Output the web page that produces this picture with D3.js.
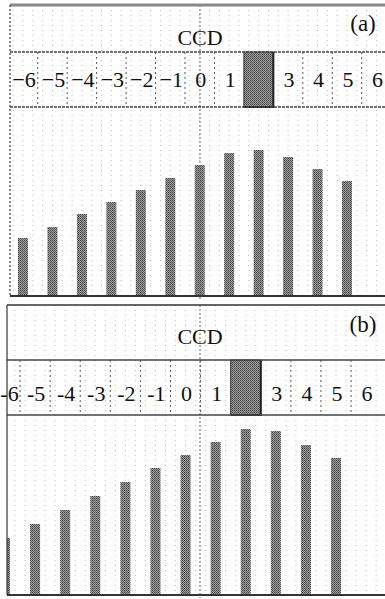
<!DOCTYPE html>
<html><head><meta charset="utf-8">
<script src="https://cdn.jsdelivr.net/npm/d3@7"></script>
<style>
html,body{margin:0;padding:0;background:#fff;}
svg{display:block;}
text{font-family:"Liberation Serif","Times New Roman",serif;fill:#111;}
</style></head>
<body>
<script>
// ---- data ----
const positions = [-6,-5,-4,-3,-2,-1,0,1,2,3,4,5];
const labelsA = ["−6","−5","−4","−3","−2","−1","0","1","2","3","4","5","6"];
const labelsB = ["-6","-5","-4","-3","-2","-1","0","1","2","3","4","5","6"];
const labelPos = [-6,-5,-4,-3,-2,-1,0,1,2,3,4,5,6];
const valuesA = [58,69,82,94,106,118,131,143,146,139,127,115];
const valuesB = [57,71,85,99,113,127,140,153,166,164,150,137];
const markedPos = 2;

const W = 385, H = 599;
const svg = d3.select("body").append("svg").attr("width",W).attr("height",H);
const defs = svg.append("defs");
const pat = defs.append("pattern").attr("id","ht").attr("width",2).attr("height",2).attr("patternUnits","userSpaceOnUse");
pat.append("rect").attr("width",2).attr("height",2).attr("fill","#a0a0a0");
pat.append("rect").attr("width",1).attr("height",1).attr("fill","#404040");
pat.append("rect").attr("x",1).attr("y",1).attr("width",1).attr("height",1).attr("fill","#606060");

function panel(cfg){
  const g = svg.append("g");
  const x = d3.scaleLinear().domain([-6,5]).range(cfg.xr);
  const step = x(1)-x(0);
  const y = d3.scaleLinear().domain([0,cfg.ymax]).range([cfg.base,cfg.bandB]);
  const clipId = "clip"+cfg.name;
  defs.append("clipPath").attr("id",clipId).append("rect")
    .attr("x",cfg.left).attr("y",cfg.top).attr("width",W-cfg.left).attr("height",cfg.base-cfg.top);
  const inner = g.append("g").attr("clip-path",`url(#${clipId})`);
  // faint dotted grid
  const gridX = d3.range(x(-6.5)+step/6, W, step/3);
  inner.selectAll("line.grid").data(gridX).join("line").attr("class","grid")
    .attr("x1",d=>d).attr("x2",d=>d).attr("y1",cfg.top).attr("y2",cfg.base)
    .attr("stroke","#bdbdbd").attr("stroke-width",1).attr("stroke-dasharray","1,4");
  // band separators
  const seps = d3.range(-5.5,6,1).filter(v=>Math.abs(v-markedPos)>0.6);
  inner.selectAll("line.sep").data(seps).join("line").attr("class","sep")
    .attr("x1",d=>x(d)).attr("x2",d=>x(d)).attr("y1",cfg.bandT).attr("y2",cfg.bandB)
    .attr("stroke","#555").attr("stroke-width",1).attr("stroke-dasharray","2,3");
  // center vertical dashed line
  g.append("line").attr("x1",cfg.cx).attr("x2",cfg.cx).attr("y1",cfg.top).attr("y2",cfg.base+3)
    .attr("stroke","#666").attr("stroke-width",1).attr("stroke-dasharray","2,2");
  // bars
  inner.selectAll("rect.bar").data(positions).join("rect").attr("class","bar")
    .attr("x",d=>x(d)-5).attr("width",10)
    .attr("y",(d,i)=>y(cfg.values[i])).attr("height",(d,i)=>cfg.base-y(cfg.values[i]))
    .attr("fill","url(#ht)");
  // marked box in band
  g.append("rect").attr("x",x(markedPos-0.5)).attr("width",step)
    .attr("y",cfg.bandT).attr("height",cfg.bandB-cfg.bandT)
    .attr("fill","url(#ht)").attr("stroke","#333").attr("stroke-width",1);
  g.append("path")
    .attr("d",`M${x(markedPos-0.5)},${cfg.bandB}H${x(markedPos+0.5)}V${cfg.bandT}`)
    .attr("fill","none").attr("stroke","#222").attr("stroke-width",2);
  // band lines
  [cfg.bandT,cfg.bandB].forEach(v=>{
    g.append("line").attr("x1",cfg.left).attr("x2",W).attr("y1",v).attr("y2",v)
      .attr("stroke","#444").attr("stroke-width",1.6).attr("stroke-dasharray",cfg.bandDash);
  });
  // labels
  g.selectAll("text.lab").data(labelPos.filter(p=>p!==markedPos)).join("text").attr("class","lab")
    .attr("x",d=>Math.max(x(d)+cfg.labDx, 9.5))
    .attr("y",cfg.labY).attr("text-anchor","middle")
    .attr("font-size",cfg.labFs).text(d=>cfg.labels[labelPos.indexOf(d)]);
  g.append("text").attr("x",cfg.cx).attr("y",cfg.ccdY).attr("text-anchor","middle")
    .attr("font-size",cfg.ccdFs).text("CCD");
  g.append("text").attr("x",363).attr("y",cfg.tagY).attr("text-anchor","middle")
    .attr("font-size",23).text(cfg.tag);
  // frame
  g.append("line").attr("x1",cfg.left).attr("x2",W).attr("y1",cfg.top).attr("y2",cfg.top)
    .attr("stroke",cfg.topColor).attr("stroke-width",cfg.topW);
  g.append("line").attr("x1",cfg.left).attr("x2",cfg.left).attr("y1",cfg.top).attr("y2",cfg.base)
    .attr("stroke","#333").attr("stroke-width",1.2).attr("stroke-dasharray",cfg.leftDash);
  g.append("line").attr("x1",cfg.left).attr("x2",W).attr("y1",cfg.base).attr("y2",cfg.base)
    .attr("stroke","#333").attr("stroke-width",2);
}

panel({name:"a", xr:[23,347], left:10, top:5, base:296, bandT:52, bandB:107, ymax:189,
  values:valuesA, labels:labelsA, cx:200, labY:87, labFs:22, labDx:1, ccdY:45, ccdFs:22,
  tag:"(a)", tagY:31, topColor:"#888", topW:3, leftDash:"2,2", bandDash:"3,1"});
panel({name:"b", xr:[5,336], left:7, top:305, base:595, bandT:360, bandB:415, ymax:180,
  values:valuesB, labels:labelsB, cx:200, labY:401, labFs:22, labDx:1, ccdY:344, ccdFs:22,
  tag:"(b)", tagY:332, topColor:"#333", topW:1.6, leftDash:null, bandDash:null});
</script>
</body></html>
